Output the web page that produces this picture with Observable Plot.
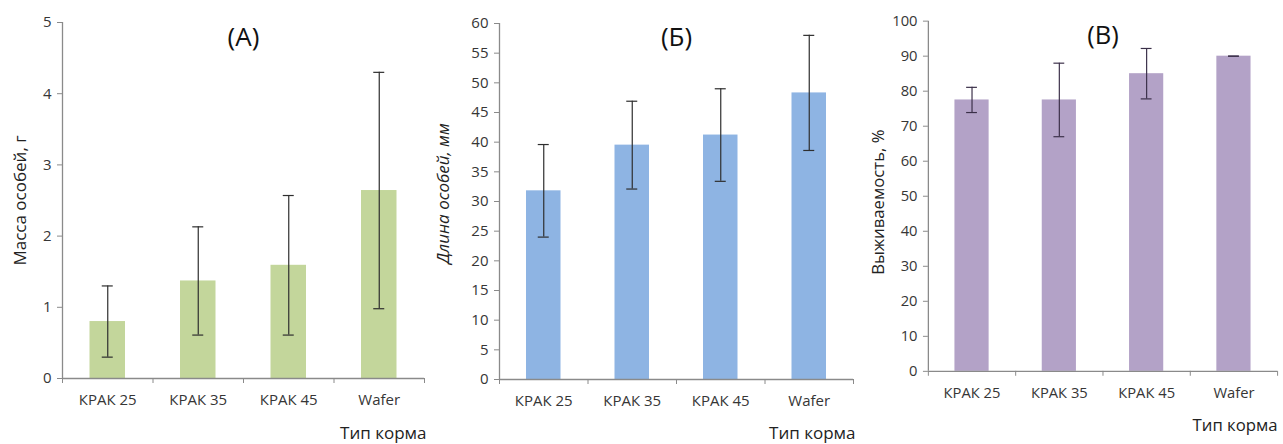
<!DOCTYPE html>
<html>
<head>
<meta charset="utf-8">
<script src="https://cdn.jsdelivr.net/npm/d3@7"></script>
<script src="https://cdn.jsdelivr.net/npm/@observablehq/plot@0.6"></script>
<style>
  html, body { margin: 0; padding: 0; background: #fff; overflow: hidden; }
  #wrap { position: relative; width: 1283px; height: 444px; overflow: hidden; }
  .panel { position: absolute; top: 0; }
</style>
</head>
<body>
<div id="wrap"></div>
<script>
const categories = ["КРАК 25", "КРАК 35", "КРАК 45", "Wafer"];
const massMean = [0.8, 1.37, 1.59, 2.64];
const massErr = [0.5, 0.76, 0.98, 1.66];
const lengthMean = [31.8, 39.5, 41.2, 48.3];
const lengthErr = [7.8, 7.4, 7.8, 9.7];
const survivalMean = [77.5, 77.5, 85.0, 90.0];
const survivalErr = [3.6, 10.5, 7.2, 0];
const massTicks = [0, 1, 2, 3, 4, 5];
const lengthTicks = [0, 5, 10, 15, 20, 25, 30, 35, 40, 45, 50, 55, 60];
const survivalTicks = [0, 10, 20, 30, 40, 50, 60, 70, 80, 90, 100];
const titles = ["(А)", "(Б)", "(В)"];
const yLabels = ["Масса особей, г", "Длина особей, мм", "Выживаемость, %"];
const xLabel = "Тип корма";

const AXIS = "#8a8a8a";
const TXT = "#363636";
const FONT = "'Open Sans', 'DejaVu Sans', sans-serif";

function panel(o) {
  const rows = categories.map((c, i) => ({i, c, v: o.mean[i], e: o.err[i]}));
  const bounds = categories.map((c, i) => i).concat([categories.length]);
  const centers = categories.map((c, i) => i + 0.5);
  const chart = Plot.plot({
    width: o.width,
    height: 444,
    marginLeft: o.mL,
    marginRight: o.mR,
    marginTop: o.mT,
    marginBottom: o.mB,
    style: {fontFamily: FONT, fontSize: "15px", background: "transparent", color: TXT, overflow: "visible"},
    x: {domain: [0, categories.length]},
    y: {domain: [o.yTicks[0], o.yTicks[o.yTicks.length - 1]]},
    marks: [
      Plot.rectY(rows, {x1: d => d.i, x2: d => d.i + 1, y: "v", fill: o.fill, insetLeft: o.inset, insetRight: o.inset}),
      Plot.ruleX(rows, {x: d => d.i + 0.5, y1: d => d.v - d.e, y2: d => d.v + d.e, stroke: o.errColor, strokeWidth: 1.2}),
      Plot.ruleY(rows, {x1: d => d.i + 0.5, x2: d => d.i + 0.5, y: d => d.v + d.e, insetLeft: -5.5, insetRight: -5.5, stroke: o.errColor, strokeWidth: 1.2}),
      Plot.ruleY(rows, {x1: d => d.i + 0.5, x2: d => d.i + 0.5, y: d => d.v - d.e, insetLeft: -5.5, insetRight: -5.5, stroke: o.errColor, strokeWidth: 1.2}),
      Plot.ruleY([o.yTicks[0]], {stroke: AXIS, strokeWidth: 1.3}),
      Plot.ruleX([0], {stroke: AXIS, strokeWidth: 1.3}),
      Plot.axisY({ticks: o.yTicks, tickSize: 5, tickPadding: 6, stroke: AXIS, fill: TXT, fontSize: 15, label: null, tickFormat: d => String(d)}),
      Plot.axisX({ticks: bounds, tickSize: 5, tickFormat: () => "", stroke: AXIS, label: null}),
      Plot.axisX({ticks: centers, tickSize: 0, tickPadding: 16, tickFormat: t => categories[Math.floor(t)], fill: TXT, fontSize: 15, label: null}),
      Plot.text([o.title], {frameAnchor: "top", textAnchor: "middle", dy: o.titleDy, fontSize: 26, fill: "#111", lineAnchor: "middle"}),
      Plot.text([o.ylabel], {frameAnchor: "left", textAnchor: "middle", rotate: -90, dx: o.labelDx, dy: o.labelDy, fontSize: 17, fill: "#222", fontStyle: o.italic ? "italic" : "normal", lineAnchor: "middle"}),
      Plot.text([xLabel], {frameAnchor: "bottom-right", textAnchor: "end", dx: o.xlDx, dy: o.xlDy, fontSize: 17, fill: "#222", lineAnchor: "middle"})
    ]
  });
  const div = document.createElement("div");
  div.className = "panel";
  div.style.left = o.left + "px";
  div.appendChild(chart);
  document.getElementById("wrap").appendChild(div);
}

panel({left: 0, width: 430, mL: 62, mR: 6, mT: 22, mB: 66, yTicks: massTicks, mean: massMean, err: massErr,
  fill: "#c3d69b", errColor: "#2e2e2e", inset: 27.5, title: titles[0], ylabel: yLabels[0], italic: false,
  labelDx: -42, labelDy: 0, titleDy: 15, xlDx: 2, xlDy: 55});
panel({left: 430, width: 430, mL: 69, mR: 7, mT: 23, mB: 65, yTicks: lengthTicks, mean: lengthMean, err: lengthErr,
  fill: "#8eb4e3", errColor: "#2e2e2e", inset: 27, title: titles[1], ylabel: yLabels[1], italic: true,
  labelDx: -56, labelDy: -8, titleDy: 14, xlDx: 2, xlDy: 54});
panel({left: 860, width: 430, mL: 69, mR: 6, mT: 21, mB: 67, yTicks: survivalTicks, mean: survivalMean, err: survivalErr,
  fill: "#b3a2c7", errColor: "#3a2f48", inset: 27, title: titles[2], ylabel: yLabels[2], italic: false,
  labelDx: -51, labelDy: 6, titleDy: 15, xlDx: 0, xlDy: 55});
</script>
</body>
</html>
